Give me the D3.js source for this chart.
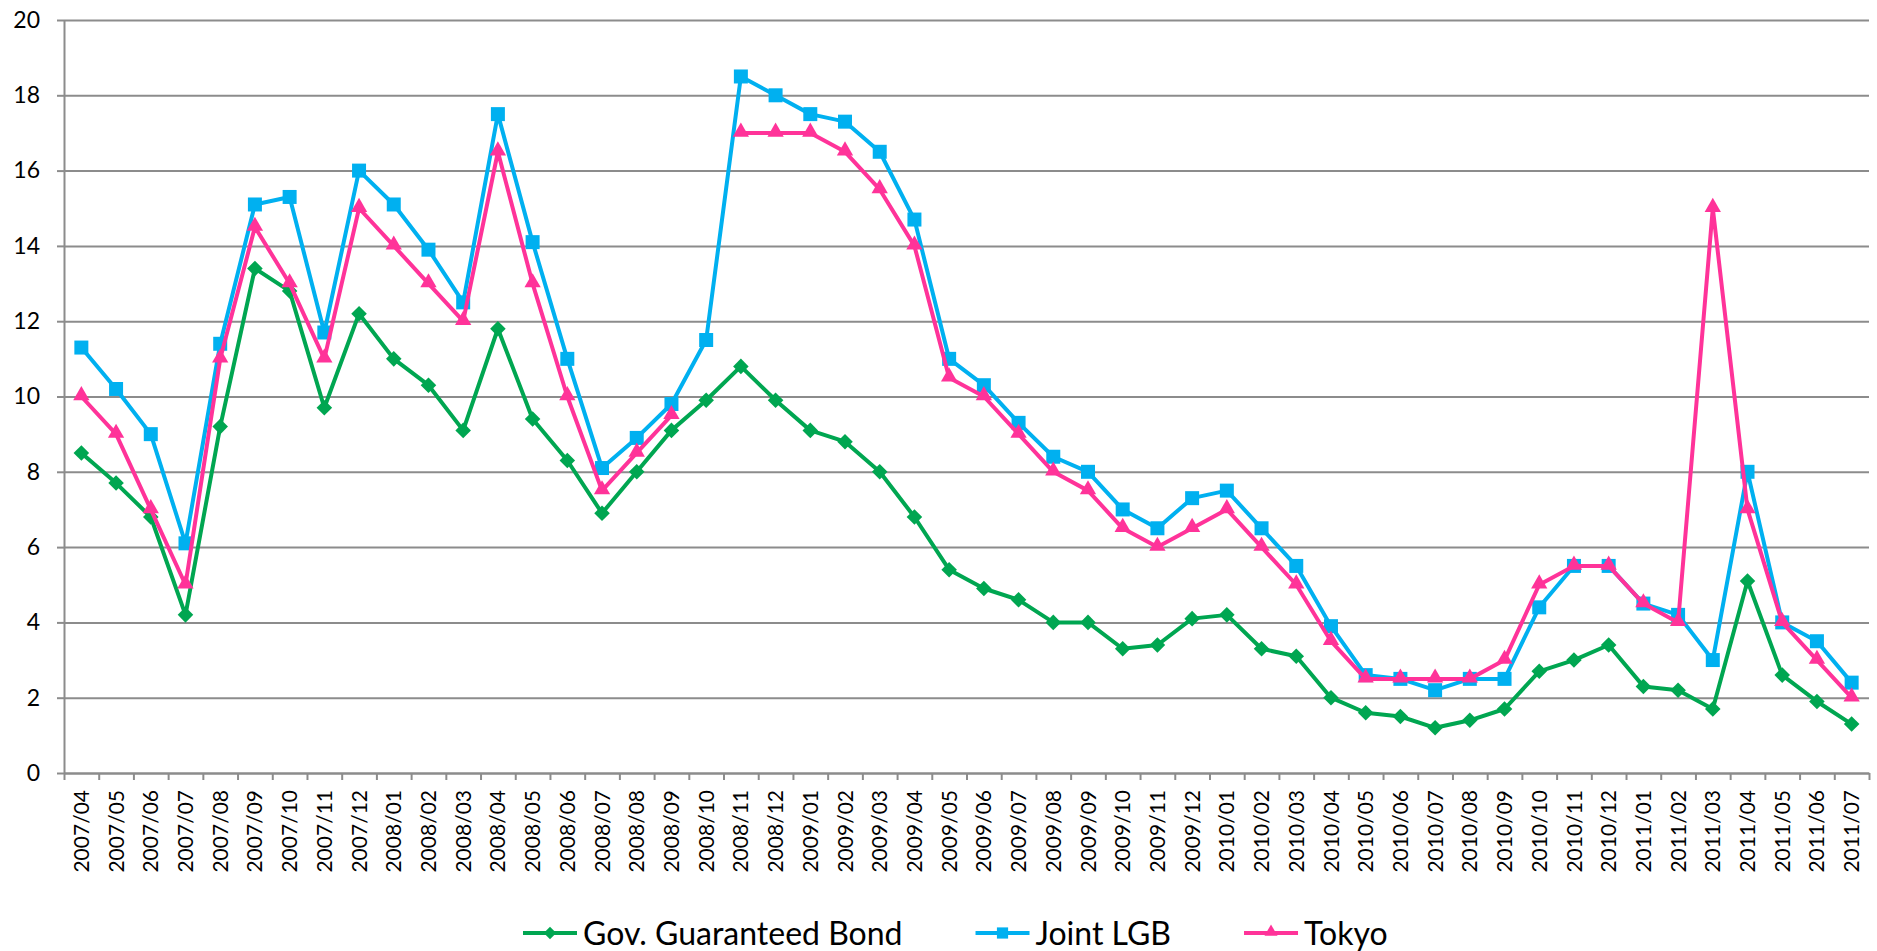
<!DOCTYPE html>
<html>
<head>
<meta charset="utf-8">
<script src="https://cdn.jsdelivr.net/npm/d3@7"></script>
<style>
body { margin: 0; background: #fff; }
text { font-family: Lato, "Open Sans", sans-serif; fill: #000; }
</style>
</head>
<body>
<svg id="chart" width="1877" height="951"></svg>
<script>
var months = ["2007/04", "2007/05", "2007/06", "2007/07", "2007/08", "2007/09", "2007/10", "2007/11", "2007/12",
              "2008/01", "2008/02", "2008/03", "2008/04", "2008/05", "2008/06", "2008/07", "2008/08", "2008/09", "2008/10", "2008/11", "2008/12",
              "2009/01", "2009/02", "2009/03", "2009/04", "2009/05", "2009/06", "2009/07", "2009/08", "2009/09", "2009/10", "2009/11", "2009/12",
              "2010/01", "2010/02", "2010/03", "2010/04", "2010/05", "2010/06", "2010/07", "2010/08", "2010/09", "2010/10", "2010/11", "2010/12",
              "2011/01", "2011/02", "2011/03", "2011/04", "2011/05", "2011/06", "2011/07"];

var govBond = [8.5, 7.7, 6.8, 4.2, 9.2, 13.4, 12.8, 9.7, 12.2,
               11.0, 10.3, 9.1, 11.8, 9.4, 8.3, 6.9, 8.0, 9.1, 9.9, 10.8, 9.9,
               9.1, 8.8, 8.0, 6.8, 5.4, 4.9, 4.6, 4.0, 4.0, 3.3, 3.4, 4.1,
               4.2, 3.3, 3.1, 2.0, 1.6, 1.5, 1.2, 1.4, 1.7, 2.7, 3.0, 3.4,
               2.3, 2.2, 1.7, 5.1, 2.6, 1.9, 1.3];

var jointLgb = [11.3, 10.2, 9.0, 6.1, 11.4, 15.1, 15.3, 11.7, 16.0,
                15.1, 13.9, 12.5, 17.5, 14.1, 11.0, 8.1, 8.9, 9.8, 11.5, 18.5, 18.0,
                17.5, 17.3, 16.5, 14.7, 11.0, 10.3, 9.3, 8.4, 8.0, 7.0, 6.5, 7.3,
                7.5, 6.5, 5.5, 3.9, 2.6, 2.5, 2.2, 2.5, 2.5, 4.4, 5.5, 5.5,
                4.5, 4.2, 3.0, 8.0, 4.0, 3.5, 2.4];

// no Tokyo figure for 2008/10
var tokyo = [10.0, 9.0, 7.0, 5.0, 11.0, 14.5, 13.0, 11.0, 15.0,
             14.0, 13.0, 12.0, 16.5, 13.0, 10.0, 7.5, 8.5, 9.5, null, 17.0, 17.0,
             17.0, 16.5, 15.5, 14.0, 10.5, 10.0, 9.0, 8.0, 7.5, 6.5, 6.0, 6.5,
             7.0, 6.0, 5.0, 3.5, 2.5, 2.5, 2.5, 2.5, 3.0, 5.0, 5.5, 5.5,
             4.5, 4.0, 15.0, 7.0, 4.0, 3.0, 2.0];

var yTicks = [0, 2, 4, 6, 8, 10, 12, 14, 16, 18, 20];
var seriesNames = ["Gov. Guaranteed Bond", "Joint LGB", "Tokyo"];

var series = [
    {name: seriesNames[0], values: govBond, color: "#00A651", shape: "diamond"},
    {name: seriesNames[1], values: jointLgb, color: "#00B0F0", shape: "square"},
    {name: seriesNames[2], values: tokyo, color: "#FF3399", shape: "triangle"}
];

var plotLeft = 64, plotRight = 1869, plotTop = 20, plotBottom = 773;
var gridColor = "#8c8c8c";

var svg = d3.select("#chart");

var x = d3.scaleBand()
          .domain(months)
          .range([plotLeft, plotRight])
          .padding(0);

var xEdges = d3.scaleLinear()
               .domain([0, months.length])
               .range([plotLeft, plotRight]);

var y = d3.scaleLinear()
          .domain([0, 20])
          .range([plotBottom, plotTop]);

// horizontal gridlines
var grid = svg.append("g")
              .attr("transform", "translate(" + plotLeft + ",0)")
              .call(d3.axisLeft(y).tickValues(yTicks).tickSize(-(plotRight - plotLeft)).tickFormat(""));
grid.select(".domain").remove();
grid.selectAll("line")
    .attr("stroke", gridColor)
    .attr("stroke-width", 2);

// y axis
var yAxis = svg.append("g")
               .attr("transform", "translate(" + plotLeft + ",0)")
               .call(d3.axisLeft(y).tickValues(yTicks).tickSize(7).tickSizeOuter(0).tickPadding(17));
yAxis.selectAll("line, .domain")
     .attr("stroke", gridColor)
     .attr("stroke-width", 2);
yAxis.selectAll("text")
     .attr("font-size", "23px")
     .attr("fill", "#000");

// x axis line and tick marks between months
var xAxis = svg.append("g")
               .attr("transform", "translate(0," + plotBottom + ")")
               .call(d3.axisBottom(xEdges).tickValues(d3.range(months.length + 1)).tickSize(7).tickSizeOuter(0).tickFormat(""));
xAxis.selectAll("line, .domain")
     .attr("stroke", gridColor)
     .attr("stroke-width", 2);

// month labels
var xLabels = svg.append("g")
                 .attr("transform", "translate(0," + plotBottom + ")")
                 .call(d3.axisBottom(x).tickSize(0));
xLabels.select(".domain").remove();
xLabels.selectAll("text")
       .attr("transform", "rotate(-90)")
       .attr("x", -17)
       .attr("y", 0)
       .attr("dy", "0.36em")
       .attr("font-size", "21px")
       .attr("fill", "#000")
       .style("text-anchor", "end");

function symbolPath(shape, scale) {
    if (shape === "diamond") return d3.symbol(d3.symbolSquare, 121 * scale * scale)();
    if (shape === "square") return d3.symbol(d3.symbolSquare, 196 * scale * scale)();
    return d3.symbol(d3.symbolTriangle, 115 * scale * scale)();
}

function symbolTransform(shape, px, py) {
    if (shape === "diamond") return "translate(" + px + "," + py + ") rotate(45)";
    if (shape === "triangle") return "translate(" + px + "," + (py - 1) + ")";
    return "translate(" + px + "," + py + ")";
}

var line = d3.line()
             .defined(d => d.v !== null)
             .x(d => x(d.m) + x.bandwidth() / 2)
             .y(d => y(d.v));

series.forEach(s => {
    var pts = months.map((m, i) => ({m: m, v: s.values[i]}));
    var g = svg.append("g").classed("series", true);

    g.append("path")
     .datum(pts)
     .attr("fill", "none")
     .attr("stroke", s.color)
     .attr("stroke-width", 4)
     .attr("stroke-linejoin", "round")
     .attr("d", line);

    g.selectAll(".marker")
     .data(pts.filter(d => d.v !== null))
     .enter()
     .append("path")
     .classed("marker", true)
     .attr("fill", s.color)
     .attr("d", symbolPath(s.shape, 1))
     .attr("transform", d => symbolTransform(s.shape, x(d.m) + x.bandwidth() / 2, y(d.v)));
});

// legend
var legend = svg.append("g").attr("transform", "translate(523,933)");
var lx = 0;
series.forEach(s => {
    var item = legend.append("g").attr("transform", "translate(" + lx + ",0)");
    item.append("line")
        .attr("x1", 0).attr("x2", 54)
        .attr("y1", 0).attr("y2", 0)
        .attr("stroke", s.color)
        .attr("stroke-width", 4);
    item.append("path")
        .attr("fill", s.color)
        .attr("d", symbolPath(s.shape, 0.8))
        .attr("transform", symbolTransform(s.shape, 27, 0));
    var t = item.append("text")
                .attr("x", 60)
                .attr("dy", "0.36em")
                .attr("font-size", "32px")
                .text(s.name);
    lx += 60 + t.node().getComputedTextLength() + 73;
});
</script>
</body>
</html>
